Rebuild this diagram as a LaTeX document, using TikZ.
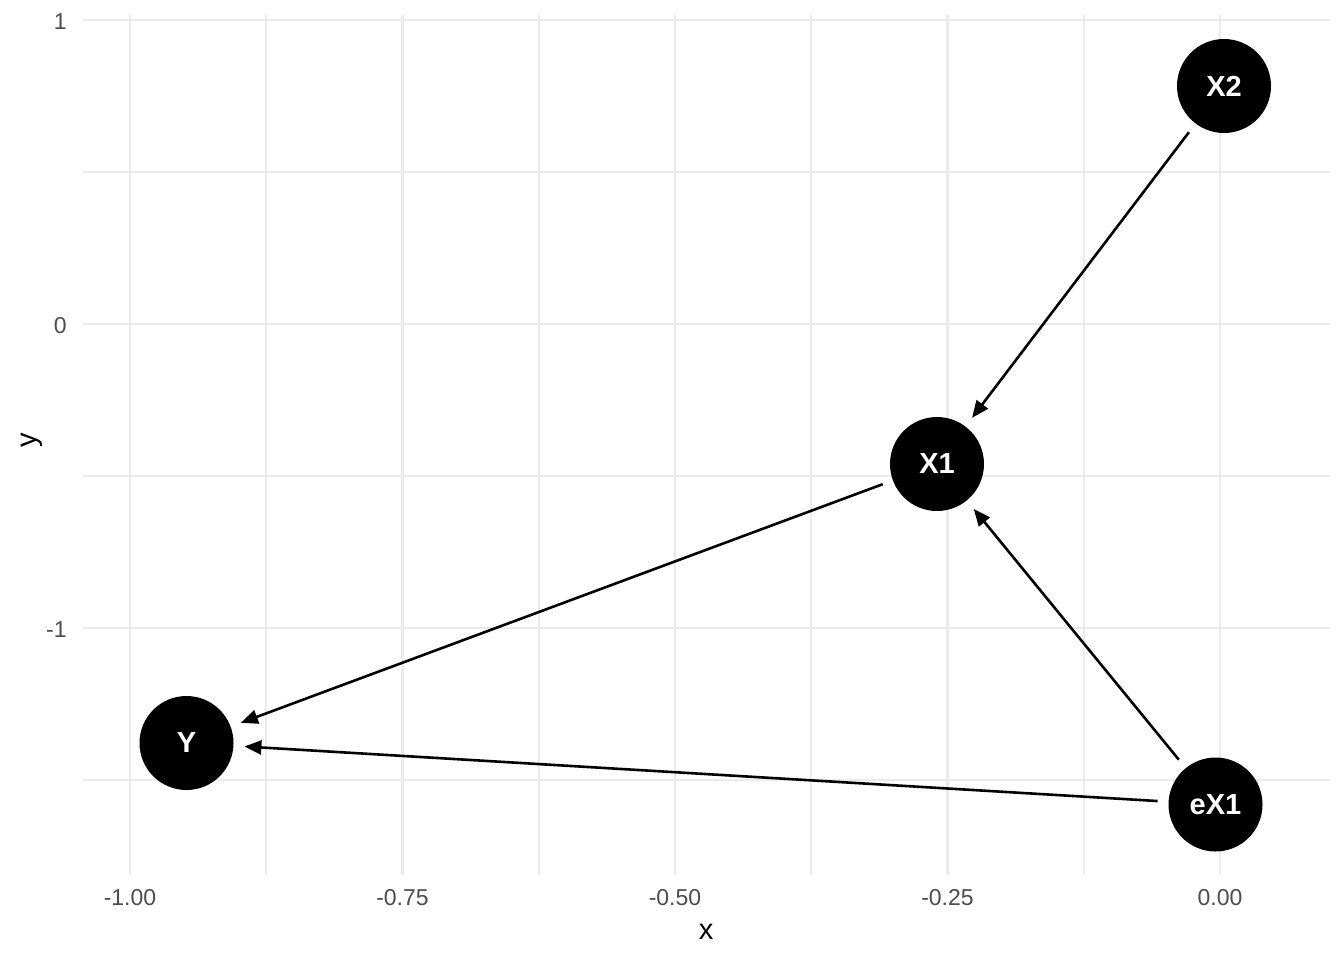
\documentclass[tikz,border=0pt]{standalone}
\usepackage{fontspec}
\setmainfont{Liberation Sans}
\usetikzlibrary{arrows.meta}
\definecolor{gridc}{HTML}{EBEBEB}
\definecolor{tickc}{HTML}{4D4D4D}
\begin{document}
\begin{tikzpicture}[x=0.5pt,y=-0.5pt,
 gridmajor/.style={draw=gridc,line width=1.2pt},
 gridminor/.style={draw=gridc,line width=0.6pt},
 dagnode/.style={circle,fill=black,minimum size=47pt,inner sep=0pt,outer sep=5.5pt,text=white,font=\bfseries\fontsize{14.5}{16}\selectfont},
 dagarrow/.style={line width=1.3pt,-{Triangle[length=8.5pt,width=7pt]}},
 ticklab/.style={text=tickc,font=\fontsize{11.5}{13}\selectfont,inner sep=0pt},
 axtitle/.style={text=black,font=\fontsize{14.5}{16}\selectfont,inner sep=0pt}
]
\useasboundingbox[fill=white] (0,0) rectangle (1344,960);
% minor grid
\foreach \gx in {266,539,811,1084} \draw[gridminor] (\gx,15) -- (\gx,875);
\foreach \gy in {172,476,780} \draw[gridminor] (83,\gy) -- (1330,\gy);
% major grid
\foreach \gx in {130,402.5,675,947.5,1220} \draw[gridmajor] (\gx,15) -- (\gx,875);
\foreach \gy in {20,324,628} \draw[gridmajor] (83,\gy) -- (1330,\gy);
% tick labels
\node[ticklab,anchor=east] (t1) at (67,22) {1};
\node[ticklab,anchor=east] (t0) at (67,326) {0};
\node[ticklab,anchor=east] (tm1) at (67,630) {-1};
\node[ticklab] (xa) at (130,898) {-1.00};
\node[ticklab] (xb) at (402.5,898) {-0.75};
\node[ticklab] (xc) at (675,898) {-0.50};
\node[ticklab] (xd) at (947.5,898) {-0.25};
\node[ticklab] (xe) at (1220,898) {0.00};
\node[axtitle] (xt) at (706,932) {x};
\node[axtitle,rotate=90] (yt) at (32,440) {y};
% nodes
\node[dagnode] (X2) at (1224,86) {X2};
\node[dagnode] (X1) at (937,464) {X1};
\node[dagnode] (Y) at (186.5,743) {Y};
\node[dagnode] (eX1) at (1215.5,804.5) {eX1};
% arrows
\draw[dagarrow] (X2) -- (X1);
\draw[dagarrow] (X1) -- (Y);
\draw[dagarrow] (eX1) -- (Y);
\draw[dagarrow] (eX1) -- (X1);
\end{tikzpicture}
\end{document}
